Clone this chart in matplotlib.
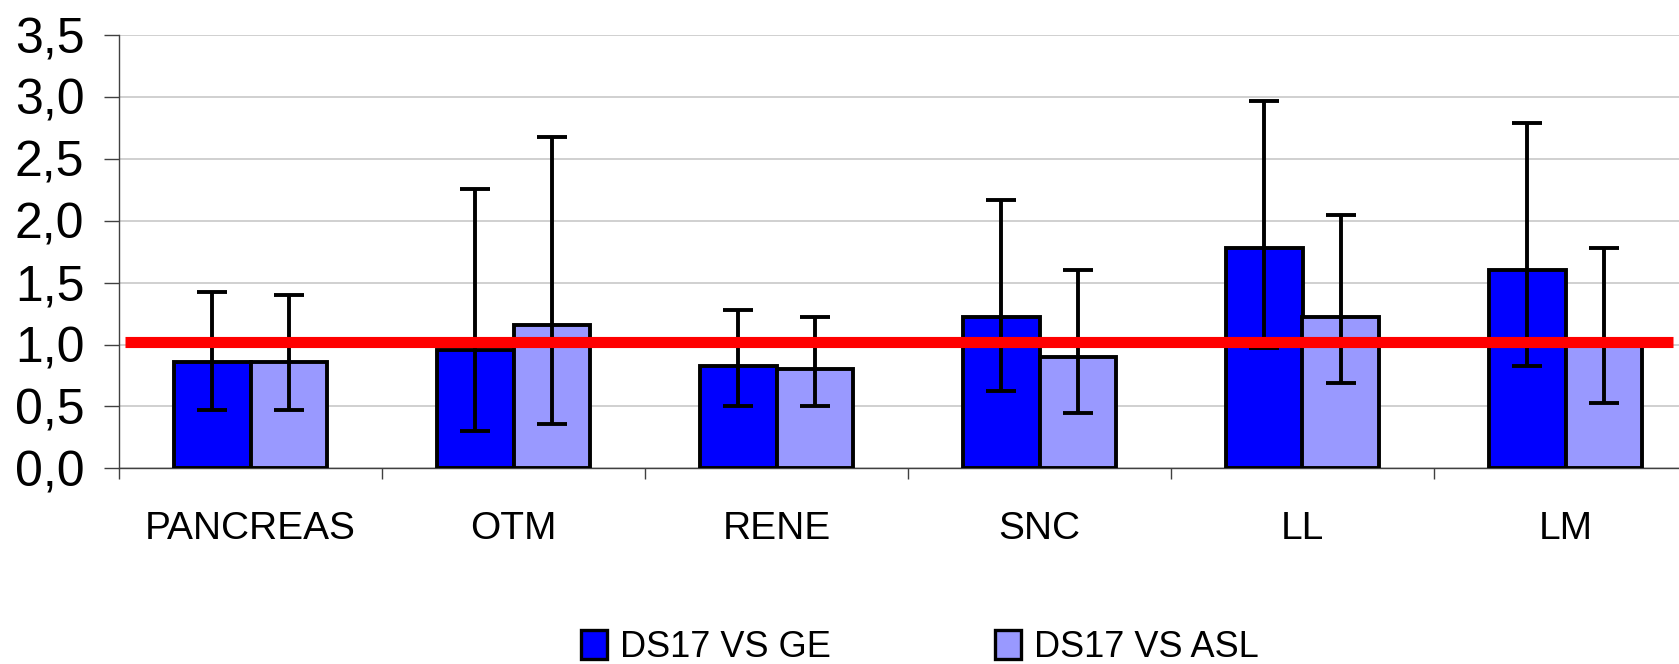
import matplotlib
matplotlib.use("Agg")
import matplotlib.pyplot as plt
import numpy as np
from matplotlib.patches import Patch

# ---- data ----
categories = ["PANCREAS", "OTM", "RENE", "SNC", "LL", "LM"]
series_names = ["DS17 VS GE", "DS17 VS ASL"]
ge_values = [0.86, 0.955, 0.83, 1.22, 1.78, 1.605]
ge_upper = [1.425, 2.26, 1.275, 2.17, 2.97, 2.79]
ge_lower = [0.47, 0.30, 0.50, 0.625, 0.975, 0.83]
asl_values = [0.86, 1.155, 0.80, 0.895, 1.22, 1.00]
asl_upper = [1.40, 2.68, 1.22, 1.605, 2.05, 1.78]
asl_lower = [0.47, 0.355, 0.50, 0.445, 0.685, 0.53]
reference_value = 1.02
y_ticks = [0.0, 0.5, 1.0, 1.5, 2.0, 2.5, 3.0, 3.5]
y_tick_labels = ["0,0", "0,5", "1,0", "1,5", "2,0", "2,5", "3,0", "3,5"]

plt.rcParams["font.family"] = ["Liberation Sans", "DejaVu Sans"]

W, H, DPI = 1679, 664, 100
fig = plt.figure(figsize=(W / DPI, H / DPI), dpi=DPI)
# axes extends slightly past the right edge (as in the reference crop)
ax_left, ax_bottom = 119 / W, (H - 468.3) / H
ax_w, ax_h = 1578 / W, (468.3 - 35) / H
ax = fig.add_axes([ax_left, ax_bottom, ax_w, ax_h])

x = np.arange(len(categories))
bw = 0.29
c_ge = "#0000FF"
c_asl = "#9999FF"

ge_err = [np.array(ge_values) - np.array(ge_lower), np.array(ge_upper) - np.array(ge_values)]
asl_err = [np.array(asl_values) - np.array(asl_lower), np.array(asl_upper) - np.array(asl_values)]

ax.bar(x - bw / 2, ge_values, bw, color=c_ge, edgecolor="black", linewidth=2.8, zorder=3)
ax.bar(x + bw / 2, asl_values, bw, color=c_asl, edgecolor="black", linewidth=2.8, zorder=3)
ax.errorbar(x - bw / 2, ge_values, yerr=ge_err, fmt="none", ecolor="black",
            elinewidth=2.8, capsize=10.5, capthick=2.8, zorder=4)
ax.errorbar(x + bw / 2, asl_values, yerr=asl_err, fmt="none", ecolor="black",
            elinewidth=2.8, capsize=10.5, capthick=2.8, zorder=4)

ax.hlines(reference_value, -0.477, 5.41, color="#FF0000", linewidth=8.0, zorder=5)

ax.set_xlim(-0.5, len(categories) - 0.5)
ax.set_ylim(0, 3.5)
ax.set_yticks(y_ticks)
ax.set_yticklabels(y_tick_labels, fontsize=36)
ax.set_xticks(x)
ax.set_xticklabels(categories, fontsize=28)
ax.set_xticks(np.arange(len(categories) + 1) - 0.5, minor=True)
ax.tick_params(axis="x", which="major", length=0, pad=31)
ax.tick_params(axis="x", which="minor", length=8, width=1, color="#404040", direction="out")
ax.tick_params(axis="y", which="major", length=11, width=1, color="#404040", direction="out", pad=14)

ax.yaxis.grid(True, color="#C8C8C8", linewidth=1.2, zorder=0)
ax.set_axisbelow(True)
for s in ["top", "right"]:
    ax.spines[s].set_visible(False)
for s in ["left", "bottom"]:
    ax.spines[s].set_color("#404040")
    ax.spines[s].set_linewidth(1.0)

handles = [Patch(facecolor=c_ge, edgecolor="black", linewidth=2.4),
           Patch(facecolor=c_asl, edgecolor="black", linewidth=2.4)]
fig.legend(handles, series_names, loc="center", bbox_to_anchor=(0.548, 0.025),
           ncol=2, frameon=False, fontsize=26, handlelength=0.72, handleheight=0.85,
           handletextpad=0.35, columnspacing=4.55)

fig.savefig("out.png", dpi=DPI, facecolor="white")
